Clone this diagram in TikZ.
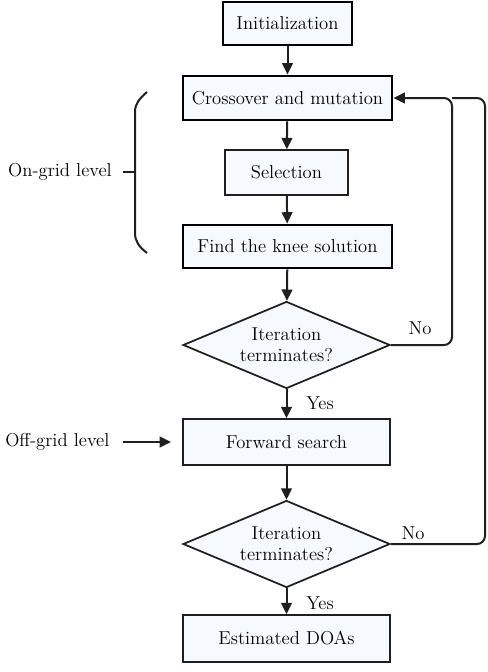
\documentclass[tikz,border=0pt]{standalone}
\usetikzlibrary{shapes.geometric,arrows.meta}

\definecolor{boxfill}{rgb}{0.965,0.98,0.995}
\definecolor{linegray}{rgb}{0.12,0.12,0.12}

\tikzset{
  flowarrow/.style={draw=linegray, line width=1.5pt, -{Triangle[length=8.5pt,width=8pt]}},
  thickbox/.style={draw=black, line width=2.2pt, fill=boxfill, inner sep=0pt},
  thinbox/.style={draw=linegray, line width=1.1pt, fill=boxfill, inner sep=0pt},
  decision/.style={diamond, draw=linegray, line width=1.3pt, fill=boxfill, inner sep=0pt, aspect=2.38, align=center},
  sidelabel/.style={inner sep=0pt}
}

\begin{document}
\begin{tikzpicture}[x=0.75pt,y=0.75pt,yscale=-1,xscale=1]
\fontsize{14}{16.5}\selectfont
\useasboundingbox (0,0) rectangle (488,672);

%Boxes of the on-grid level
\node [thickbox, minimum width=96.75pt, minimum height=32.25pt] (init) at (287.5,23.5) {Initialization};
\node [thickbox, minimum width=156.75pt, minimum height=33pt] (cross) at (287.5,98) {Crossover and mutation};
\node [thinbox, minimum width=92.25pt, minimum height=33.75pt] (select) at (286.5,172.5) {Selection};
\node [thickbox, minimum width=156.75pt, minimum height=32.25pt] (knee) at (287.5,246.5) {Find the knee solution};
\node [decision, minimum width=155.25pt, minimum height=65.25pt] (iterA) at (286.5,345) {Iteration\\[-1pt]terminates?};

%Boxes of the off-grid level
\node [thinbox, minimum width=155.25pt, minimum height=34.5pt] (forward) at (286.5,442) {Forward search};
\node [decision, minimum width=155.25pt, minimum height=65.25pt] (iterB) at (286.5,544) {Iteration\\[-1pt]terminates?};
\node [thinbox, minimum width=155.25pt, minimum height=35.25pt] (doas) at (286.5,638.5) {Estimated DOAs};

%Main flow
\draw [flowarrow] (init) -- (cross);
\draw [flowarrow] (cross) -- (select);
\draw [flowarrow] (select) -- (knee);
\draw [flowarrow] (knee) -- (iterA);
\draw [flowarrow] (iterA) -- (forward);
\draw [flowarrow] (forward) -- (iterB);
\draw [flowarrow] (iterB) -- (doas);

%Feedback loops
\draw [flowarrow, rounded corners=6pt] (iterA.east) -- (452,345) -- (452,98) -- (cross.east);
\draw [draw=linegray, line width=1.5pt, rounded corners=6pt] (iterB.east) -- (485,544) -- (485,98) -- (452,98);

%Branch labels
\node [sidelabel] (noA) at (420,328) {No};
\node [sidelabel] (noB) at (413,533) {No};
\node [sidelabel] (yesA) at (320,403) {Yes};
\node [sidelabel] (yesB) at (320,603) {Yes};

%Level labels
\node [sidelabel, anchor=east] (ongrid) at (112,172) {On-grid level};
\draw [draw=linegray, line width=1.5pt] (123,172) -- (135,172);
\draw [draw=linegray, line width=1.5pt] (147,92) .. controls (139,99) and (135,104) .. (135,112) -- (135,233) .. controls (135,241) and (139,247) .. (147,253);

\node [sidelabel, anchor=west] (offgrid) at (5,442) {Off-grid level};
\coordinate (offtip) at (171,442);
\draw [flowarrow] (123,442) -- (offtip);

\end{tikzpicture}
\end{document}
